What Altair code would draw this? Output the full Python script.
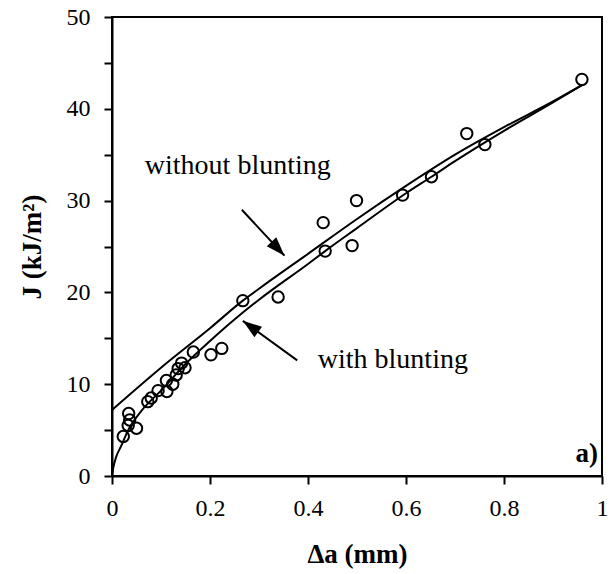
import math
import altair as alt
import pandas as pd

# ---- data ----
pts_x = [0.023, 0.034, 0.036, 0.033, 0.050, 0.073, 0.080, 0.094, 0.112, 0.111,
         0.124, 0.131, 0.135, 0.142, 0.149, 0.166, 0.202, 0.224, 0.267, 0.339,
         0.431, 0.435, 0.490, 0.499, 0.593, 0.652, 0.724, 0.761, 0.959]
pts_j = [4.3, 6.8, 6.1, 5.5, 5.2, 8.1, 8.5, 9.3, 9.2, 10.4,
         10.0, 11.0, 11.7, 12.3, 11.8, 13.5, 13.2, 13.9, 19.1, 19.5,
         27.6, 24.5, 25.1, 30.0, 30.6, 32.6, 37.3, 36.1, 43.2]

# curve "with blunting"
with_x = [0.0, 0.003, 0.008, 0.019, 0.033, 0.06, 0.1, 0.15, 0.2, 0.267, 0.3,
          0.4, 0.435, 0.5, 0.6, 0.652, 0.7, 0.8, 0.9, 0.96]
with_j = [0.0, 1.0, 2.0, 3.3, 5.0, 7.1, 9.3, 12.2, 14.7, 17.8, 19.2,
          23.1, 24.5, 27.0, 30.8, 32.6, 34.3, 37.6, 40.7, 42.6]

# curve "without blunting"
without_x = [0.0, 0.1, 0.2, 0.267, 0.3, 0.4, 0.5, 0.6, 0.7, 0.8, 0.9, 0.96]
without_j = [7.2, 11.8, 16.1, 19.1, 20.4, 24.2, 28.0, 31.6, 35.0, 38.0, 40.8, 42.6]

# annotation arrows (tail -> tip) and labels
arrow_tail_x = [0.265, 0.378]
arrow_tail_j = [29.0, 12.6]
arrow_tip_x = [0.352, 0.267]
arrow_tip_j = [24.0, 16.9]

label_text = ["without blunting", "with blunting"]
label_x = [0.067, 0.420]
label_j = [32.9, 11.8]

x_ticks = [0, 0.2, 0.4, 0.6, 0.8, 1]
y_ticks = [0, 5, 10, 15, 20, 25, 30, 35, 40, 45, 50]

# ---- layout ----
W, H = 490, 459
FONT = "Liberation Serif"

xs = alt.Scale(domain=[0, 1], nice=False, zero=False)
ys = alt.Scale(domain=[0, 50], nice=False, zero=False)

x_axis = alt.Axis(values=x_ticks, format="~g", title="Δa  (mm)", grid=False,
                  tickSize=8, tickWidth=2, tickColor="black",
                  domainColor="black", domainWidth=2,
                  labelFont=FONT, labelFontSize=24, labelColor="black",
                  labelPadding=12, labelFlush=False,
                  titleFont=FONT, titleFontSize=27, titleFontWeight="bold",
                  titleColor="black", titlePadding=21)
y_axis = alt.Axis(values=y_ticks, labelExpr="datum.value % 10 == 0 ? datum.label : ''",
                  title="J  (kJ/m²)", grid=False,
                  tickSize=8, tickWidth=2, tickColor="black",
                  domainColor="black", domainWidth=2,
                  labelFont=FONT, labelFontSize=24, labelColor="black",
                  labelPadding=14, labelFlush=False,
                  titleFont=FONT, titleFontSize=27, titleFontWeight="bold",
                  titleColor="black", titlePadding=20)

X = alt.X("x:Q", scale=xs, axis=x_axis)
Y = alt.Y("y:Q", scale=ys, axis=y_axis)

pts_df = pd.DataFrame({"x": pts_x, "y": pts_j})
with_df = pd.DataFrame({"x": with_x, "y": with_j})
without_df = pd.DataFrame({"x": without_x, "y": without_j})

# arrow angles derived from the pixel direction of each arrow
angles = []
for tx, tj, hx, hj in zip(arrow_tail_x, arrow_tail_j, arrow_tip_x, arrow_tip_j):
    dx = (hx - tx) * W / 1.0
    dy_up = (hj - tj) * H / 50.0
    angles.append(math.degrees(math.atan2(dx, dy_up)) % 360)

arrow_df = pd.DataFrame({"x": arrow_tail_x, "y": arrow_tail_j,
                         "x2": arrow_tip_x, "y2": arrow_tip_j})
head_df = pd.DataFrame({"x": arrow_tip_x, "y": arrow_tip_j, "angle": angles})
label_df = pd.DataFrame({"x": label_x, "y": label_j, "t": label_text})
panel_df = pd.DataFrame({"x": [0.992], "y": [1.5], "t": ["a)"]})

lines_with = alt.Chart(with_df).mark_line(color="black", strokeWidth=2,
                                          interpolate="monotone").encode(x=X, y=Y)
lines_without = alt.Chart(without_df).mark_line(color="black", strokeWidth=2,
                                                interpolate="monotone").encode(x=X, y=Y)
points = alt.Chart(pts_df).mark_point(shape="circle", filled=False, color="black",
                                      size=130, strokeWidth=2, opacity=1).encode(x=X, y=Y)
arrows = alt.Chart(arrow_df).mark_rule(color="black", strokeWidth=2).encode(
    x=X, y=Y, x2="x2:Q", y2="y2:Q")
heads = alt.Chart(head_df).mark_point(shape="M0,0L-0.65,1.9L0.65,1.9Z", filled=True,
                                      color="black", size=400, opacity=1,
                                      strokeWidth=0).encode(
    x=X, y=Y, angle=alt.Angle("angle:Q", scale=None))
labels = alt.Chart(label_df).mark_text(font=FONT, fontSize=28, color="black",
                                       align="left", baseline="alphabetic").encode(
    x=X, y=Y, text="t:N")
panel = alt.Chart(panel_df).mark_text(font=FONT, fontSize=27, fontWeight="bold",
                                      color="black", align="right",
                                      baseline="alphabetic").encode(x=X, y=Y, text="t:N")

chart = alt.layer(lines_with, lines_without, arrows, heads, points, labels, panel).properties(
    width=W, height=H,
    padding={"left": 112, "top": 17, "right": 11, "bottom": 98},
    autosize=alt.AutoSizeParams(type="none"),
    background="white",
).configure_view(stroke="black", strokeWidth=2)

chart.save("out.html", embed_options={"renderer": "svg", "actions": False})
